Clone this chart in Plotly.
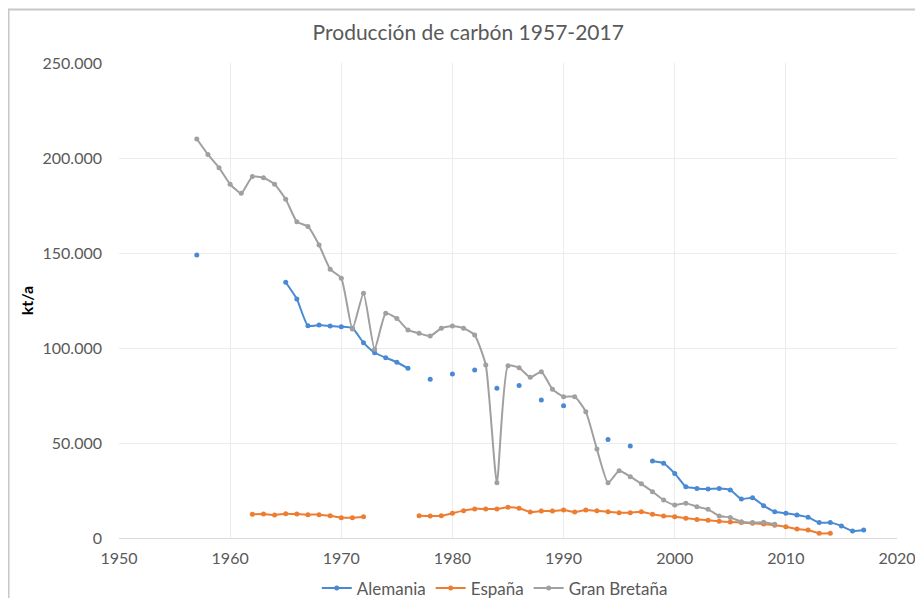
import plotly.graph_objects as go

years = list(range(1957, 2018))

# kt/a
alemania = [149000, None, None, None, None, None, None, None,
            134600, 125800, 111700, 112100, 111600, 111200, 110400, 102800, 97500, 94900, 92500, 89300,
            None, 83500, None, 86300, None, 88400, None, 78800, None, 80200, None, 72600, None, 69600,
            None, None, None, 51900, None, 48400, None,
            40500, 39300, 34000, 27000, 26100, 25800, 26100, 25300, 20500, 21200, 17000, 13800,
            13000, 12100, 10900, 8100, 8100, 6300, 3700, 4200]

espana = [None, None, None, None, None,
          12500, 12600, 12100, 12800, 12600, 12300, 12300, 11700, 10700, 10700, 11200,
          None, None, None, None,
          11700, 11600, 11700, 13000, 14400, 15300, 15300, 15300, 16200, 15700, 13700, 14200, 14200,
          14700, 13700, 14700, 14300, 13800, 13300, 13300, 13800, 12500, 11600, 11200, 10400, 9800,
          9300, 8800, 8400, 8100, 7700, 7400, 6700, 5900, 4700, 4200, 2500, 2500,
          None, None, None]

gran_bretana = [210000, 201900, 194900, 186200, 181400, 190200, 189600, 186200, 178300, 166500,
                163900, 154200, 141500, 136700, 110000, 128800, 99300, 118300, 115500, 109500,
                107700, 106300, 110400, 111600, 110400, 106800, 91100, 29100, 90700, 89600,
                84600, 87500, 78300, 74400, 74400, 66500, 46800, 29100, 35400, 32300,
                28500, 24400, 20000, 17400, 18300, 16500, 15100, 11600, 10800, 8600,
                8100, 8300, 7200, None, None, None, None, None, None, None, None]

series = [("Alemania", alemania, "#4A8AD4"),
          ("España", espana, "#ED7D31"),
          ("Gran Bretaña", gran_bretana, "#A0A0A0")]

x_ticks = [1950, 1960, 1970, 1980, 1990, 2000, 2010, 2020]
y_ticks = [0, 50000, 100000, 150000, 200000, 250000]

fig = go.Figure()
for name, vals, color in series:
    fig.add_trace(go.Scatter(
        x=years, y=vals, name=name, mode="lines+markers",
        connectgaps=False,
        line=dict(color=color, width=2, shape="spline", smoothing=0.5),
        marker=dict(color=color, size=5, symbol="circle"),
    ))

font_family = "Lato, 'Open Sans', sans-serif"
fig.update_layout(
    width=915, height=590,
    margin=dict(l=111, r=26, t=55, b=60, autoexpand=False),
    paper_bgcolor="white", plot_bgcolor="white",
    separators=",.",
    font=dict(family=font_family, color="#595959", size=16),
    title=dict(text="Producción de carbón 1957-2017", x=0.503, xanchor="center",
               y=0.959, yanchor="middle", font=dict(size=21, color="#595959")),
    showlegend=True,
    legend=dict(orientation="h", x=0.483, xanchor="center", yref="container", y=0.016,
                yanchor="middle", font=dict(size=17, color="#595959"), itemwidth=30,
                tracegroupgap=0),
    xaxis=dict(range=[1950, 2020], tickvals=x_ticks, ticktext=[str(t) for t in x_ticks],
               showgrid=True, gridcolor="#ECECEC", gridwidth=1, zeroline=False,
               showline=True, linecolor="#D9D9D9", linewidth=1, ticks="",
               ticklabelstandoff=6, ticklabeloverflow="allow",
               tickfont=dict(size=16, color="#595959")),
    yaxis=dict(range=[0, 250000], tickvals=y_ticks, tickformat=",d",
               showgrid=True, gridcolor="#ECECEC", gridwidth=1, zeroline=False,
               showline=False, ticks="", ticklabelstandoff=16,
               tickfont=dict(size=16, color="#595959"),
               title=dict(text="<b>kt/a</b>", font=dict(size=16, color="#000000"), standoff=4)),
)

# chart frame (top and left edges of the Excel chart area)
fig.add_shape(type="line", xref="paper", yref="paper", x0=-0.143, x1=1.04, y0=1.1125, y1=1.1125,
              line=dict(color="#C8C8C8", width=2))
fig.add_shape(type="line", xref="paper", yref="paper", x0=-0.142, x1=-0.142, y0=-0.13, y1=1.1125,
              line=dict(color="#C8C8C8", width=2))

fig.write_html("out.html")
